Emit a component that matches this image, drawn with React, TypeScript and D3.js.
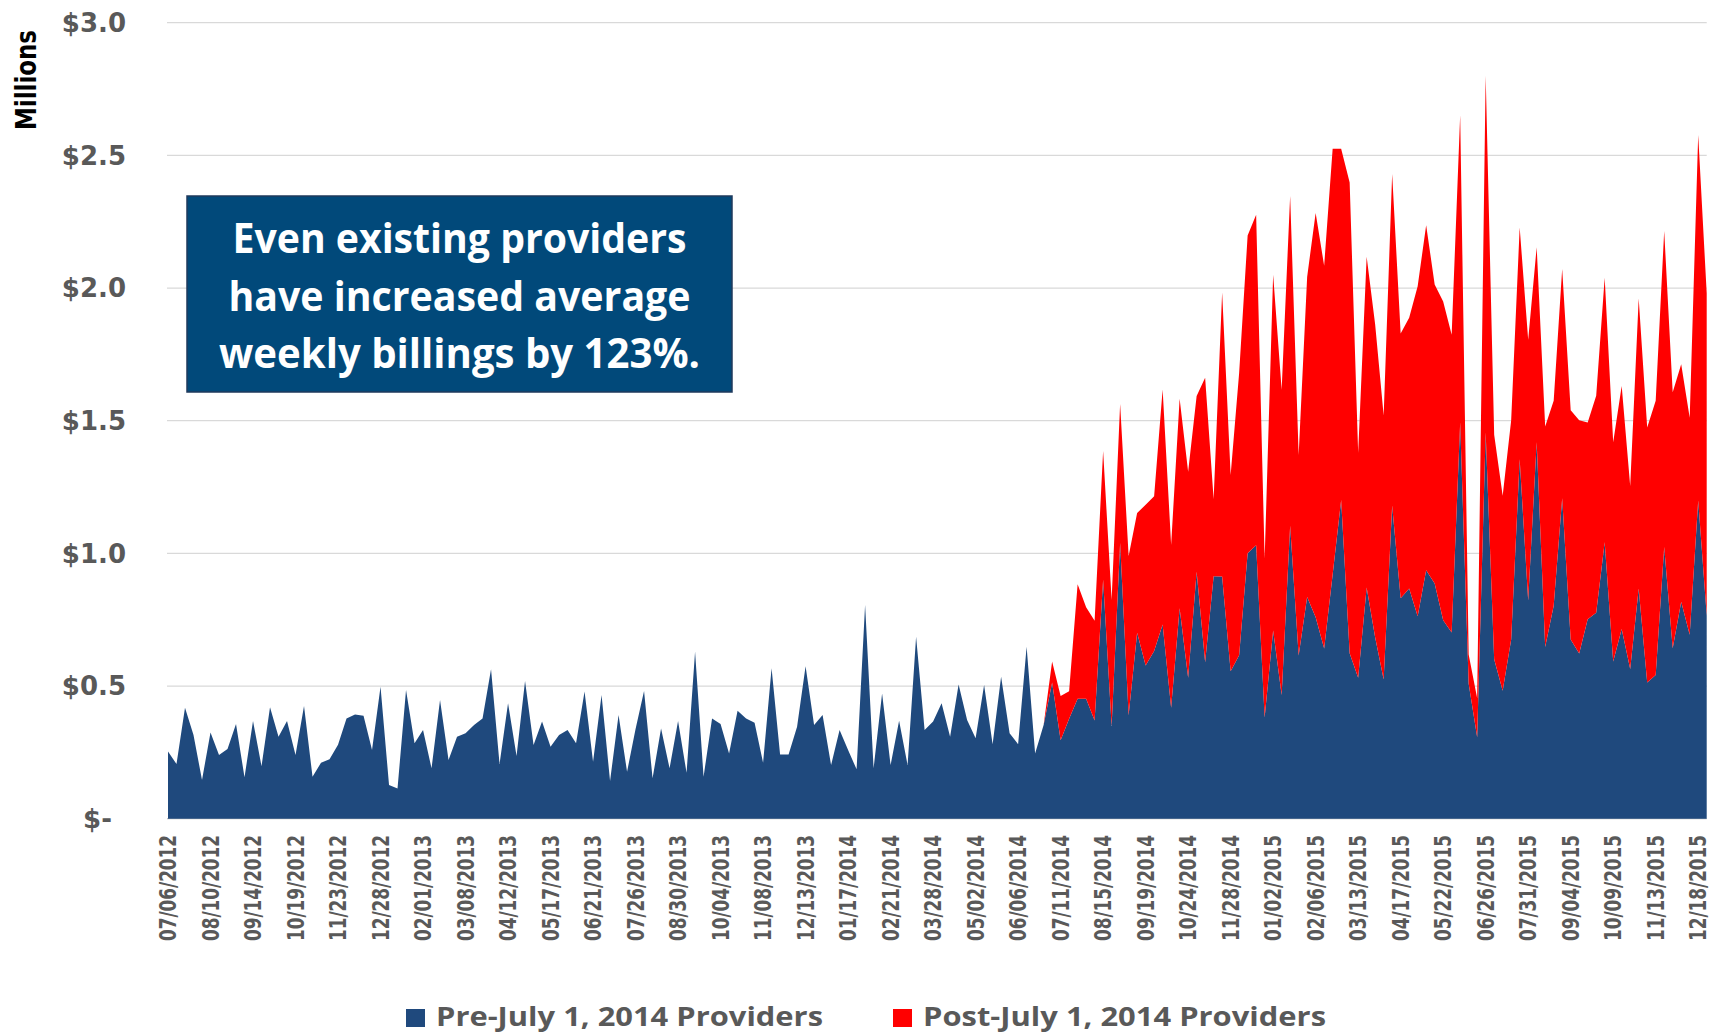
import React from "react";
import * as d3 from "d3";

// Weekly billings, in $ millions (07/06/2012 … 12/25/2015, 182 weeks)
const tickLabels = [
  "07/06/2012", "08/10/2012", "09/14/2012", "10/19/2012", "11/23/2012", "12/28/2012",
  "02/01/2013", "03/08/2013", "04/12/2013", "05/17/2013", "06/21/2013", "07/26/2013",
  "08/30/2013", "10/04/2013", "11/08/2013", "12/13/2013", "01/17/2014", "02/21/2014",
  "03/28/2014", "05/02/2014", "06/06/2014", "07/11/2014", "08/15/2014", "09/19/2014",
  "10/24/2014", "11/28/2014", "01/02/2015", "02/06/2015", "03/13/2015", "04/17/2015",
  "05/22/2015", "06/26/2015", "07/31/2015", "09/04/2015", "10/09/2015", "11/13/2015",
  "12/18/2015",
];
const tickEvery = 5;

const preJuly2014 = [
  0.253, 0.206, 0.418, 0.315, 0.146, 0.325, 0.240, 0.263, 0.357, 0.156,
  0.368, 0.198, 0.420, 0.309, 0.368, 0.240, 0.425, 0.158, 0.211, 0.224,
  0.279, 0.378, 0.393, 0.388, 0.259, 0.497, 0.127, 0.114, 0.485, 0.284,
  0.334, 0.190, 0.447, 0.221, 0.309, 0.322, 0.353, 0.378, 0.563, 0.206,
  0.435, 0.236, 0.519, 0.278, 0.366, 0.271, 0.315, 0.334, 0.284, 0.479,
  0.215, 0.466, 0.142, 0.391, 0.177, 0.338, 0.481, 0.152, 0.340, 0.190,
  0.368, 0.173, 0.629, 0.158, 0.378, 0.357, 0.246, 0.407, 0.378, 0.362,
  0.211, 0.567, 0.242, 0.242, 0.347, 0.575, 0.353, 0.391, 0.202, 0.334,
  0.259, 0.186, 0.805, 0.190, 0.472, 0.202, 0.369, 0.202, 0.686, 0.334,
  0.366, 0.435, 0.309, 0.506, 0.372, 0.303, 0.504, 0.281, 0.535, 0.322,
  0.281, 0.648, 0.246, 0.353, 0.513, 0.296, 0.377, 0.452, 0.452, 0.370,
  0.901, 0.349, 1.039, 0.390, 0.701, 0.577, 0.632, 0.732, 0.418, 0.793,
  0.531, 0.931, 0.590, 0.914, 0.913, 0.556, 0.616, 1.000, 1.031, 0.381,
  0.709, 0.466, 1.104, 0.615, 0.836, 0.759, 0.641, 0.920, 1.201, 0.624,
  0.531, 0.871, 0.683, 0.525, 1.180, 0.831, 0.868, 0.763, 0.936, 0.886,
  0.748, 0.702, 1.493, 0.509, 0.307, 1.456, 0.601, 0.482, 0.675, 1.355,
  0.822, 1.419, 0.647, 0.803, 1.208, 0.675, 0.623, 0.752, 0.776, 1.042,
  0.592, 0.715, 0.564, 0.868, 0.513, 0.542, 1.024, 0.642, 0.818, 0.693,
  1.199, 0.767,
];

const postJuly2014 = [
  0, 0, 0, 0, 0, 0, 0, 0, 0, 0,
  0, 0, 0, 0, 0, 0, 0, 0, 0, 0,
  0, 0, 0, 0, 0, 0, 0, 0, 0, 0,
  0, 0, 0, 0, 0, 0, 0, 0, 0, 0,
  0, 0, 0, 0, 0, 0, 0, 0, 0, 0,
  0, 0, 0, 0, 0, 0, 0, 0, 0, 0,
  0, 0, 0, 0, 0, 0, 0, 0, 0, 0,
  0, 0, 0, 0, 0, 0, 0, 0, 0, 0,
  0, 0, 0, 0, 0, 0, 0, 0, 0, 0,
  0, 0, 0, 0, 0, 0, 0, 0, 0, 0,
  0, 0, 0, 0, 0.079, 0.166, 0.103, 0.432, 0.345, 0.376,
  0.485, 0.476, 0.524, 0.600, 0.451, 0.606, 0.583, 0.886, 0.614, 0.790,
  0.777, 0.662, 1.072, 0.290, 1.070, 0.739, 1.064, 1.198, 1.245, 0.599,
  1.341, 1.151, 1.243, 0.756, 1.206, 1.524, 1.443, 1.605, 1.324, 1.774,
  0.848, 1.247, 1.180, 0.995, 1.250, 0.998, 1.020, 1.244, 1.301, 1.127,
  1.201, 1.122, 1.158, 0.110, 0.147, 1.344, 0.846, 0.735, 0.827, 0.873,
  0.983, 0.735, 0.831, 0.772, 0.864, 0.864, 0.879, 0.741, 0.818, 0.997,
  0.827, 0.916, 0.690, 1.093, 0.961, 1.033, 1.191, 0.965, 0.895, 0.818,
  1.378, 1.213,
];

const seriesNames = ["Pre-July 1, 2014 Providers", "Post-July 1, 2014 Providers"];
const seriesColors = ["#1F497D", "#FF0000"];
const yTicks = [0, 0.5, 1.0, 1.5, 2.0, 2.5, 3.0];
const calloutLines = [
  "Even existing providers",
  "have increased average",
  "weekly billings by 123%.",
];

export default function App() {
  const W = 1712;
  const H = 1034;
  const n = preJuly2014.length;
  const x = d3.scaleLinear().domain([0, n - 1]).range([168, 1706.7]);
  const y = d3.scaleLinear().domain([0, 3]).range([818.7, 22.7]);

  const rows = preJuly2014.map((v, i) => ({ i, pre: v, post: postJuly2014[i] }));
  const stacked = d3.stack<any>().keys(["pre", "post"])(rows);
  const area = d3
    .area<any>()
    .x((d) => x(d.data.i))
    .y0((d) => y(d[0]))
    .y1((d) => y(d[1]));

  const fmt = (v: number) => (v === 0 ? "$-" : "$" + v.toFixed(1));
  const gray = "#595959";
  const condensed = "'Liberation Sans Narrow', 'DejaVu Sans Condensed', 'Roboto Condensed', 'Liberation Sans', sans-serif";

  return (
    <div style={{ position: "fixed", left: 0, top: 0, width: W, height: H, background: "#fff" }}>
      <svg width={W} height={H} viewBox={`0 0 ${W} ${H}`} style={{ display: "block" }}>
        <rect x={0} y={0} width={W} height={H} fill="#ffffff" />
        {/* gridlines */}
        {yTicks.map((t) => (
          <line
            key={"g" + t}
            x1={x.range()[0] - 1}
            x2={x.range()[1]}
            y1={y(t)}
            y2={y(t)}
            stroke={t === 0 ? "#BFBFBF" : "#D9D9D9"}
            strokeWidth={1.2}
          />
        ))}
        {/* areas */}
        {stacked.map((s, k) => (
          <path key={s.key} d={area(s as any) || ""} fill={seriesColors[k]} stroke="none" />
        ))}
        {/* y tick labels */}
        {yTicks.map((t) => (
          <text
            key={"yl" + t}
            x={t === 0 ? 112 : 126}
            y={y(t)}
            dy="0.36em"
            textAnchor="end"
            fontFamily="'DejaVu Sans', Verdana, sans-serif"
            fontWeight="bold"
            fontSize={26}
            fill={gray}
          >
            {fmt(t)}
          </text>
        ))}
        {/* Millions */}
        <text
          transform={`translate(26,80) rotate(-90)`}
          textAnchor="middle"
          dy="0.36em"
          fontFamily={condensed}
          fontWeight="bold"
          fontSize={29}
          fill="#000"
          textLength={100}
          lengthAdjust="spacingAndGlyphs"
        >
          Millions
        </text>
        {/* x tick labels */}
        {tickLabels.map((lab, k) => (
          <text
            key={lab}
            transform={`translate(${x(k * tickEvery)},835) rotate(-90)`}
            textAnchor="end"
            dy="0.36em"
            fontFamily={condensed}
            fontWeight="bold"
            fontSize={23}
            fill={gray}
            textLength={106}
            lengthAdjust="spacingAndGlyphs"
          >
            {lab}
          </text>
        ))}
        {/* callout */}
        <rect x={187} y={196} width={545} height={196} fill="#01497A" stroke="#1F3A5C" strokeWidth={1.5} />
        {calloutLines.map((l, k) => (
          <text
            key={l}
            x={459.5}
            y={253 + k * 57.5}
            textAnchor="middle"
            fontFamily="'Open Sans', Lato, sans-serif"
            fontWeight="bold"
            fontSize={41}
            fill="#fff"
            textLength={[454, 462, 481][k]}
            lengthAdjust="spacingAndGlyphs"
          >
            {l}
          </text>
        ))}
        {/* legend */}
        {seriesNames.map((name, k) => {
          const lx = [406, 893][k];
          return (
            <g key={name}>
              <rect x={lx} y={1009} width={19} height={18} fill={seriesColors[k]} />
              <text
                x={lx + 30}
                y={1026}
                fontFamily="'Open Sans', 'Noto Sans', sans-serif"
                fontWeight="bold"
                fontSize={27}
                fill={gray}
                textLength={[387, 403][k]}
                lengthAdjust="spacingAndGlyphs"
              >
                {name}
              </text>
            </g>
          );
        })}
      </svg>
    </div>
  );
}
